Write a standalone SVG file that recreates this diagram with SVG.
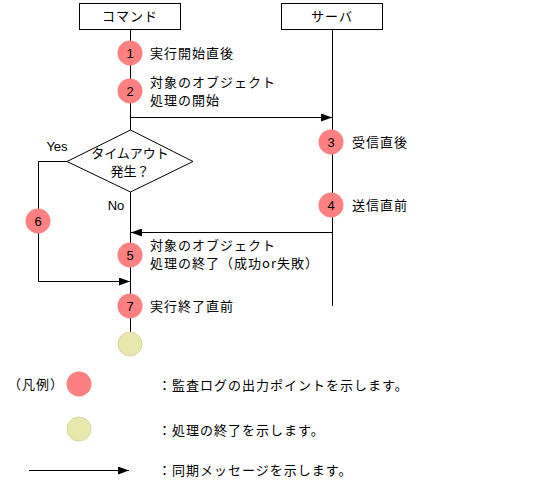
<svg xmlns="http://www.w3.org/2000/svg" width="537" height="494" viewBox="0 0 537 494">
<style>
text{font-family:"Noto Sans CJK JP","Noto Sans CJK SC",sans-serif;font-size:13px;letter-spacing:1px;fill:#000}
.n{font-family:"Liberation Sans",sans-serif;font-size:13px;letter-spacing:0;text-anchor:middle}
.d{letter-spacing:0;text-anchor:middle}
.box{fill:#fff;stroke:#000;stroke-width:1}
.ln{stroke:#000;stroke-width:1;fill:none}
.red{fill:#FF8080}
.yel{fill:#E8E8AC;stroke:#D8D8A0;stroke-width:1}
</style>
<defs>
<marker id="ah" markerWidth="12" markerHeight="8" refX="11" refY="4" orient="auto" markerUnits="userSpaceOnUse">
<path d="M0,0 L11,4 L0,8 Z" fill="#000"/>
</marker>
</defs>
<g id="lifelines">
<line class="ln" x1="130.5" y1="29" x2="130.5" y2="332"/>
<line class="ln" x1="332.5" y1="29" x2="332.5" y2="306"/>
</g>
<g id="cmd"><rect class="box" x="79.5" y="3.5" width="101" height="26"/><text x="130" y="21" text-anchor="middle">コマンド</text></g>
<g id="srv"><rect class="box" x="281.5" y="3.5" width="101" height="26"/><text x="332" y="21" text-anchor="middle">サーバ</text></g>
<g id="connectors">
<line class="ln" x1="130" y1="117.5" x2="332" y2="117.5" marker-end="url(#ah)"/>
<line class="ln" x1="332" y1="232.5" x2="131" y2="232.5" marker-end="url(#ah)"/>
<polyline class="ln" points="67,161.5 38.5,161.5 38.5,281.5 130,281.5" marker-end="url(#ah)"/>
</g>
<g id="decision">
<polygon points="130.5,130 193,161.5 130.5,192 67,161.5" fill="#fff" stroke="#000"/>
<text x="130" y="158" class="d">タイムアウト</text>
<text x="130" y="176" class="d">発生？</text>
<text x="57" y="151" class="n">Yes</text>
<text x="116" y="210" class="n">No</text>
</g>
<g id="p1"><circle class="red" cx="130" cy="53" r="12.5"/><text class="n" x="130" y="58">1</text><text x="150" y="58">実行開始直後</text></g>
<g id="p2"><circle class="red" cx="130" cy="91" r="12.5"/><text class="n" x="130" y="96">2</text><text x="150" y="87">対象のオブジェクト</text><text x="150" y="105">処理の開始</text></g>
<g id="p3"><circle class="red" cx="331" cy="142" r="12.5"/><text class="n" x="331" y="147">3</text><text x="352" y="147">受信直後</text></g>
<g id="p4"><circle class="red" cx="331" cy="205" r="12.5"/><text class="n" x="331" y="210">4</text><text x="352" y="210">送信直前</text></g>
<g id="p6"><circle class="red" cx="38" cy="221" r="12.5"/><text class="n" x="38" y="226">6</text></g>
<g id="p5"><circle class="red" cx="130" cy="255" r="12.5"/><text class="n" x="130" y="260">5</text><text x="150" y="250">対象のオブジェクト</text><text x="150" y="268">処理の終了（成功or失敗）</text></g>
<g id="p7"><circle class="red" cx="130" cy="306" r="12.5"/><text class="n" x="130" y="311">7</text><text x="150" y="311">実行終了直前</text></g>
<g id="end"><circle class="yel" cx="130" cy="344" r="12"/></g>
<g id="legend">
<text x="8" y="389">（凡例）</text>
<circle class="red" cx="79" cy="384" r="12.5"/>
<text x="158" y="390">：監査ログの出力ポイントを示します。</text>
<circle class="yel" cx="79" cy="429" r="12"/>
<text x="158" y="435">：処理の終了を示します。</text>
<line class="ln" x1="29" y1="470.5" x2="129" y2="470.5" marker-end="url(#ah)"/>
<text x="158" y="475">：同期メッセージを示します。</text>
</g>
</svg>
